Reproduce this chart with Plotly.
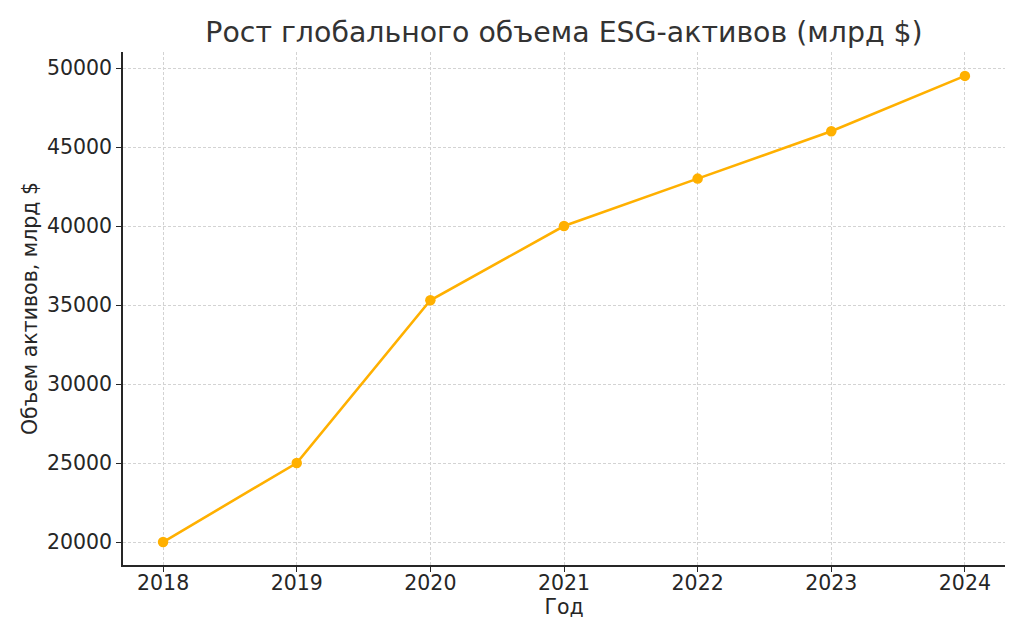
import plotly.graph_objects as go

years = [2018, 2019, 2020, 2021, 2022, 2023, 2024]
assets = [20000, 25000, 35300, 40000, 43000, 46000, 49500]
y_ticks = [20000, 25000, 30000, 35000, 40000, 45000, 50000]

color = "#FFB000"
font = "DejaVu Sans"

fig = go.Figure()
fig.add_trace(go.Scatter(
    x=years, y=assets, mode="lines+markers",
    line=dict(color=color, width=2.6),
    marker=dict(color=color, size=10.5),
    showlegend=False,
))

fig.update_layout(
    width=1024, height=640,
    margin=dict(l=115, r=27, t=44, b=83, autoexpand=False),
    paper_bgcolor="white", plot_bgcolor="white",
    font=dict(family=font, color="#262626", size=20.5),
    title=dict(text="Рост глобального объема ESG-активов (млрд $)",
               x=0.5, xref="paper", xanchor="center", y=0.9625, yanchor="middle",
               font=dict(size=28.4, color="#333333"), automargin=False),
)
fig.update_xaxes(
    range=[2017.7, 2024.3], tickvals=years, ticktext=[str(y) for y in years],
    showline=True, linecolor="#262626", linewidth=1.5,
    ticks="outside", ticklen=5, tickcolor="#262626",
    ticklabelstandoff=-6,
    showgrid=True, gridcolor="#d3d3d3", griddash="3px,2px", gridwidth=1,
    zeroline=False, automargin=False,
    title=dict(text="Год", font=dict(size=20.5), standoff=4),
)
fig.update_yaxes(
    range=[18545, 51013], tickvals=y_ticks, ticktext=[str(v) for v in y_ticks],
    showline=True, linecolor="#262626", linewidth=1.5,
    ticks="outside", ticklen=5, tickcolor="#262626",
    showgrid=True, gridcolor="#d3d3d3", griddash="3px,2px", gridwidth=1,
    zeroline=False, automargin=False,
    title=dict(text="Объем активов, млрд $", font=dict(size=20.5), standoff=4),
)

fig.write_html("out.html")
